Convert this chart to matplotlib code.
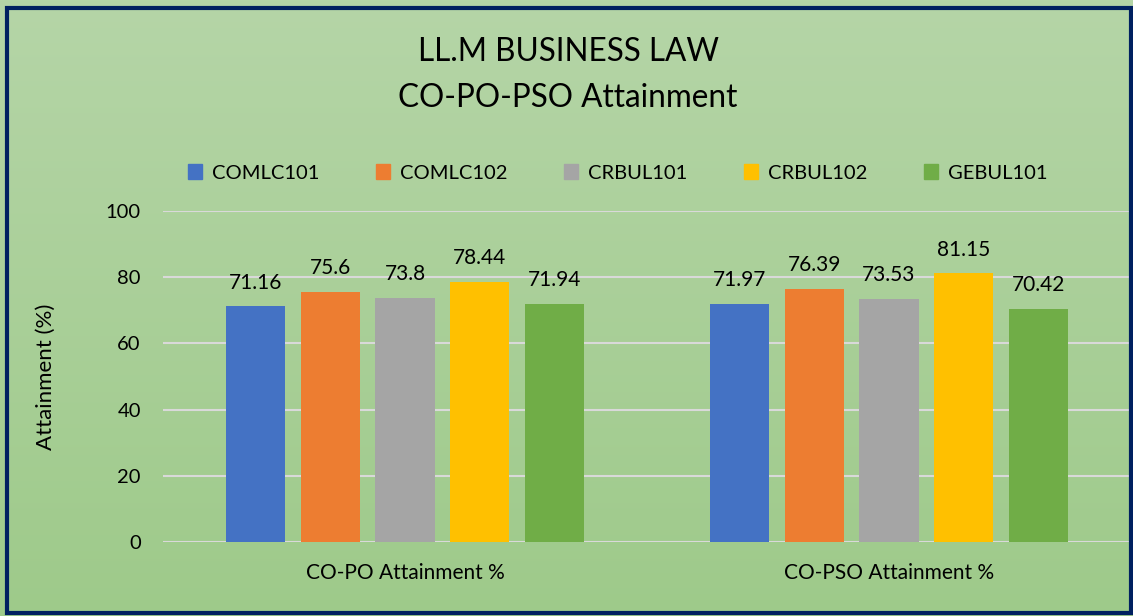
import matplotlib.pyplot as plt
import matplotlib.patches as mpatches
import numpy as np

categories = ["CO-PO Attainment %", "CO-PSO Attainment %"]
courses = ["COMLC101", "COMLC102", "CRBUL101", "CRBUL102", "GEBUL101"]
values = {
    "COMLC101": [71.16, 71.97],
    "COMLC102": [75.6, 76.39],
    "CRBUL101": [73.8, 73.53],
    "CRBUL102": [78.44, 81.15],
    "GEBUL101": [71.94, 70.42],
}
colors = ["#4472C4", "#ED7D31", "#A5A5A5", "#FFC000", "#70AD47"]

plt.rcParams['font.family'] = ['Lato', 'DejaVu Sans']

W, H = 1133, 616
fig = plt.figure(figsize=(W / 100, H / 100), dpi=100)

# gradient background
bg = fig.add_axes([0, 0, 1, 1], zorder=-10)
grad = np.linspace(0, 1, 256).reshape(-1, 1)
top = np.array([0xB5, 0xD5, 0xA7]) / 255
bot = np.array([0x9E, 0xCA, 0x8A]) / 255
img = top + (bot - top) * grad[:, :, None]
bg.imshow(img, aspect='auto', extent=[0, 1, 0, 1])
bg.axis('off')

# border
fig.patches.append(mpatches.Rectangle((7 / W, 3 / H), 1124 / W, 605 / H,
                                      transform=fig.transFigure, fill=False,
                                      edgecolor="#002060", linewidth=3, zorder=5))

ax = fig.add_axes([163 / W, 1 - 542 / H, (1131 - 163) / W, (542 - 211) / H])
ax.set_facecolor('none')

x = np.arange(len(categories))
step = 0.154
width = 0.122
for i, (name, c) in enumerate(zip(courses, colors)):
    pos = x + (i - 2) * step
    bars = ax.bar(pos, values[name], width, color=c, label=name, zorder=3)
    ax.bar_label(bars, labels=[f"{v:g}" for v in values[name]], padding=10,
                 fontsize=15, color="#000000")

ax.set_xlim(-0.5, 1.5)
ax.set_ylim(0, 100)
ax.set_yticks(range(0, 101, 20))
ax.yaxis.grid(True, color="#D9D9D9", linewidth=1.5, zorder=0)
ax.tick_params(axis='y', length=0, labelsize=14.5, pad=16)
ax.tick_params(axis='x', length=0, labelsize=15, pad=15)
ax.set_xticks(x)
ax.set_xticklabels(categories)
for s in ax.spines.values():
    s.set_visible(False)
ax.set_ylabel("Attainment (%)", fontsize=16, labelpad=36)

fig.text(568 / W, 1 - 52 / H, "LL.M BUSINESS LAW", ha='center', va='center', fontsize=22.7)
fig.text(568 / W, 1 - 98 / H, "CO-PO-PSO Attainment", ha='center', va='center', fontsize=22.7)

handles = [mpatches.Patch(color=c, label=n) for n, c in zip(courses, colors)]
fig.legend(handles=handles, loc='center', bbox_to_anchor=(618 / W, 1 - 173 / H),
           ncol=5, frameon=False, fontsize=14.5, handlelength=0.7, handleheight=0.7,
           handletextpad=0.5, columnspacing=2.8)

fig.savefig("out.png", dpi=100)
